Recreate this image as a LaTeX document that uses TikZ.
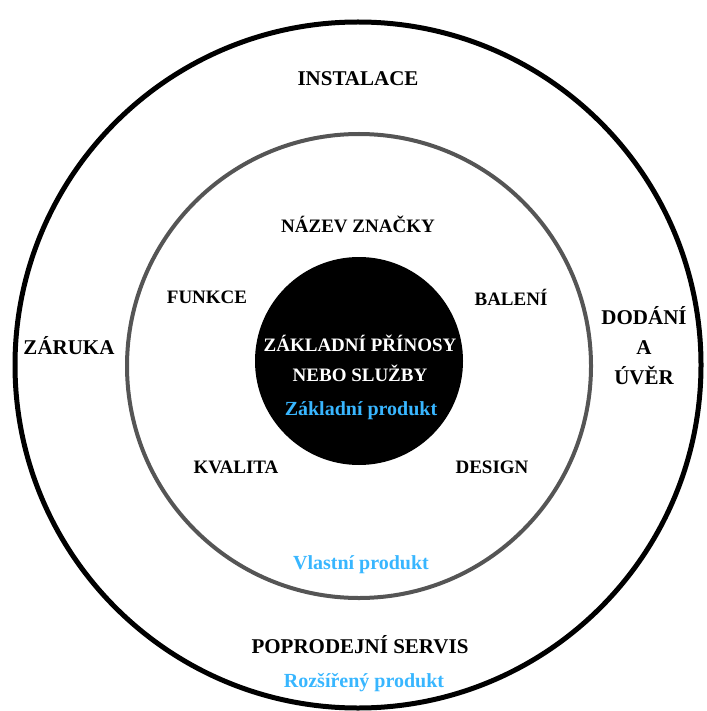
\documentclass[tikz,border=0pt]{standalone}
\usepackage{fontspec}
\setmainfont{Liberation Serif}
\definecolor{skyblue}{RGB}{56,182,255}
\definecolor{ringgray}{RGB}{85,85,85}
\begin{document}
\begin{tikzpicture}[x=1pt, y=-1pt,
  lab/.style={inner sep=0pt, font=\fontsize{19}{30}\selectfont\bfseries, align=center},
  biglab/.style={lab, font=\fontsize{21}{30}\selectfont\bfseries},
  bluelab/.style={lab, text=skyblue, font=\fontsize{20}{24}\selectfont\bfseries}]
\useasboundingbox (0,0) rectangle (706,711);
\coordinate (ctr) at (358,365);
\draw[line width=5pt] (ctr) circle (343);
\draw[ringgray, line width=4pt] (359,366) circle (232);
\fill[black] (359,361) circle (104);
% outer ring
\node[biglab] (instal) at (358,79) {INSTALACE};
\node[biglab] (zaruka) at (69,346) {ZÁRUKA};
\node[biglab] (dodani) at (644,346) {DODÁNÍ\\A\\ÚVĚR};
\node[biglab] (servis) at (360,645) {POPRODEJNÍ SERVIS};
\node[bluelab] (rozsir) at (364,683) {Rozšířený produkt};
% middle ring
\node[lab] (znacka) at (358,224) {NÁZEV ZNAČKY};
\node[lab] (funkce) at (207,297) {FUNKCE};
\node[lab] (baleni) at (511,297) {BALENÍ};
\node[lab] (kvalita) at (236,467) {KVALITA};
\node[lab] (design) at (492,467) {DESIGN};
\node[bluelab] (vlastni) at (361,565) {Vlastní produkt};
% core
\node[lab, text=white] (prinosy) at (360,358) {ZÁKLADNÍ PŘÍNOSY\\NEBO SLUŽBY};
\node[bluelab] (zaklad) at (361,411) {Základní produkt};
\end{tikzpicture}
\end{document}
